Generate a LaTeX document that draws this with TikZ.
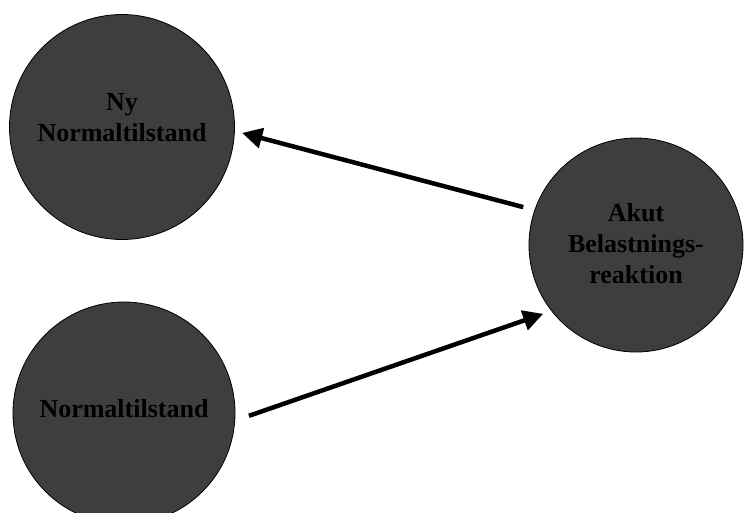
\documentclass[tikz,border=0pt]{standalone}
\usepackage{fontspec}
\setmainfont{Liberation Serif}
\usetikzlibrary{arrows.meta}
\definecolor{discfill}{RGB}{62,62,62}
\tikzset{
  disc/.style={circle, fill=discfill, draw=black, line width=0.8pt, inner sep=0pt, outer sep=0pt},
  disctext/.style={align=center, font=\fontsize{26}{31}\selectfont\bfseries, text=black, inner sep=0pt},
  arr/.style={line width=4.5pt, -{Triangle[length=20pt,width=20pt]}}
}
\begin{document}
\begin{tikzpicture}[x=1pt,y=-1pt]
\useasboundingbox (0,0) rectangle (746,512);
\fill[white] (0,0) rectangle (746,512);
\node[disc, minimum size=225pt] (ny) at (122,127) {};
\node[disctext] (nytext) at (122,118) {Ny\\Normaltilstand};
\node[disc, minimum size=222pt] (norm) at (124,413) {};
\node[disctext] (normtext) at (124,409) {Normaltilstand};
\node[disc, minimum size=214pt] (akut) at (636,245) {};
\node[disctext] (akuttext) at (636,244) {Akut\\Belastnings-\\reaktion};
\draw[arr, shorten <=12pt, shorten >=8pt] (akut.161.6) -- (ny.-2.8);
\draw[arr, shorten <=15pt, shorten >=9pt] (norm.-4) -- (akut.218.7);
\end{tikzpicture}
\end{document}
